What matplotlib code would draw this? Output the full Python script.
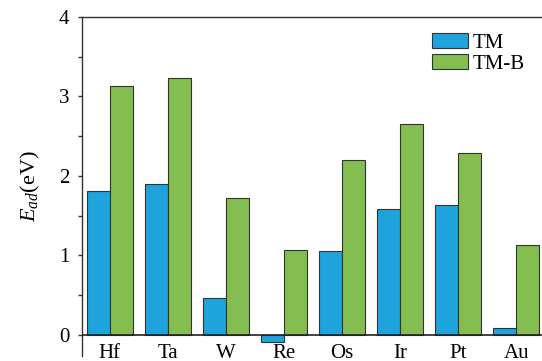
import matplotlib
matplotlib.use("Agg")
import matplotlib.pyplot as plt
import numpy as np

categories = ["Hf", "Ta", "W", "Re", "Os", "Ir", "Pt", "Au"]
tm = [1.81, 1.90, 0.47, -0.09, 1.06, 1.59, 1.63, 0.09]
tm_b = [3.13, 3.23, 1.72, 1.07, 2.20, 2.65, 2.29, 1.13]
series_names = ["TM", "TM-B"]
yticks = [0, 1, 2, 3, 4]

plt.rcParams['font.family'] = ['Liberation Serif', 'DejaVu Serif']
plt.rcParams['mathtext.fontset'] = 'custom'
plt.rcParams['mathtext.rm'] = 'Liberation Serif'
plt.rcParams['mathtext.it'] = 'Liberation Serif:italic'

fs = 15
fig = plt.figure(figsize=(5.42, 3.61), dpi=100)
W, H = 542, 361
left, right, top, bottom = 82, 546, 17, 356
ax = fig.add_axes([left / W, (H - bottom) / H, (right - left) / W, (bottom - top) / H])

x = np.arange(len(categories))
bw = 0.4
ax.bar(x - bw / 2, tm, bw, color='#1fa3dc', edgecolor='#333333', linewidth=0.8, label=series_names[0], zorder=2)
ax.bar(x + bw / 2, tm_b, bw, color='#84bd50', edgecolor='#333333', linewidth=0.8, label=series_names[1], zorder=2)
ax.axhline(0, color='#222222', linewidth=1.2, zorder=3)

ax.set_xlim(-0.48, len(categories) - 1 + 0.48 + (right - 544) / 58)
ax.set_ylim(-0.265, 4)
ax.set_yticks(yticks)
ax.set_yticks(np.arange(0.5, 4, 1.0), minor=True)
ax.set_xticks(x, categories)
ax.tick_params(axis='x', length=0, pad=-9, labelsize=fs)
ax.tick_params(axis='y', which='major', length=3, width=1, pad=6, labelsize=fs, color='#333333')
ax.tick_params(axis='y', which='minor', length=3, width=1, color='#333333')
ax.spines['bottom'].set_visible(False)
for s in ['left', 'top', 'right']:
    ax.spines[s].set_color('#333333')
    ax.spines[s].set_linewidth(1.0)

ax.set_ylabel('$E_{ad}$(eV)', fontsize=fs + 1, labelpad=12)

ax.legend(loc='upper left', bbox_to_anchor=((432 - left) / (right - left), (bottom - 33) / (bottom - top)),
          frameon=False, fontsize=fs, handlelength=1.75, handleheight=0.76,
          handletextpad=0.2, labelspacing=0.05, borderpad=0, borderaxespad=0)

fig.savefig('out.png', dpi=100)
